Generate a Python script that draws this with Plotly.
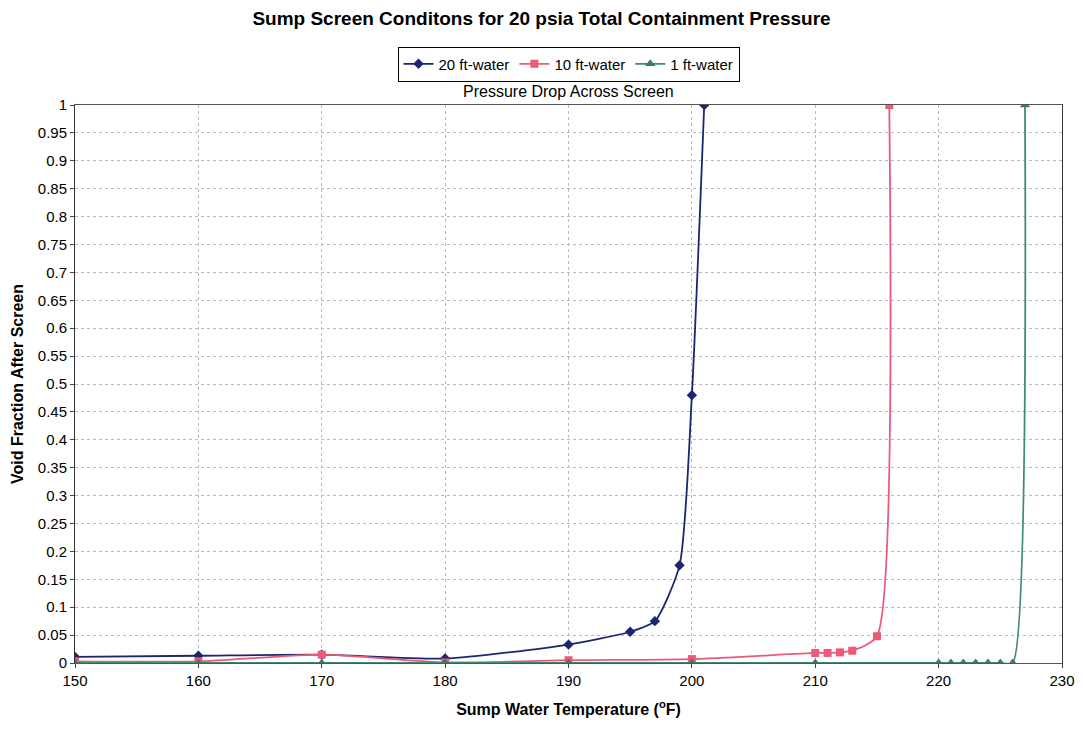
import plotly.graph_objects as go

# Sump water temperature (F) and void fraction after screen
temp_20ft = [150, 160, 170, 180, 190, 195, 197, 199, 200, 201]
void_20ft = [0.011, 0.013, 0.015, 0.008, 0.033, 0.056, 0.075, 0.175, 0.48, 1.0]

temp_10ft = [150, 160, 170, 180, 190, 200, 210, 211, 212, 213, 215, 216]
void_10ft = [0.003, 0.003, 0.015, 0.001, 0.005, 0.007, 0.018, 0.018, 0.019, 0.022, 0.048, 1.0]

temp_1ft = [150, 160, 170, 180, 190, 200, 210, 220, 221, 222, 223, 224, 225, 226, 227]
void_1ft = [0, 0, 0, 0, 0, 0, 0, 0, 0, 0, 0, 0, 0, 0, 1.0]

fig = go.Figure()

fig.add_trace(go.Scatter(x=temp_20ft, y=void_20ft, name="20 ft-water",
                         mode="lines+markers", line=dict(color="#1c2670", width=1.8, shape="spline", smoothing=0.6),
                         marker=dict(symbol="diamond", size=8, color="#1c2670")))
fig.add_trace(go.Scatter(x=temp_10ft, y=void_10ft, name="10 ft-water",
                         mode="lines+markers", line=dict(color="#ec5a78", width=1.8, shape="spline", smoothing=0.6),
                         marker=dict(symbol="square", size=8, color="#ec5a78")))
fig.add_trace(go.Scatter(x=temp_1ft, y=void_1ft, name="1 ft-water",
                         mode="lines+markers", line=dict(color="#3f8a72", width=1.8, shape="spline", smoothing=0.6),
                         marker=dict(symbol="triangle-up", size=9, color="#3f7a62")))

# page body adds an 8px offset, so the figure is sized a bit smaller than the window
fig.update_layout(
    width=1067, height=715,
    paper_bgcolor="white", plot_bgcolor="white",
    font=dict(family="Liberation Sans, Arial", size=15, color="black"),
    margin=dict(l=67, r=13, t=97, b=60),
    title=dict(text="<b>Sump Screen Conditons for 20 psia Total Containment Pressure</b>",
               x=0.5, xanchor="center", y=0.986, yanchor="middle", font=dict(size=19)),
    legend=dict(orientation="h", x=0.5, xanchor="center", y=1.042, yanchor="bottom",
                bordercolor="black", borderwidth=1, font=dict(size=15),
                tracegroupgap=0),
    annotations=[dict(text="Pressure Drop Across Screen", xref="paper", yref="paper",
                      x=0.5, y=1.0, yanchor="bottom", yshift=3, showarrow=False, font=dict(size=16))],
)

fig.update_xaxes(range=[150, 230], dtick=10, showgrid=True, gridcolor="#b8b8cc", griddash="dot",
                 showline=True, linecolor="#555555", mirror=True, ticks="outside", ticklen=4,
                 automargin=False, zeroline=False, tickfont=dict(size=15),
                 title=dict(text="<b>Sump Water Temperature (<sup>o</sup>F)</b>", font=dict(size=16)))
fig.update_yaxes(range=[0, 1], dtick=0.05, showgrid=True, gridcolor="#b8b8cc", griddash="dot",
                 showline=True, linecolor="#333333", mirror=True, ticks="outside", ticklen=4,
                 automargin=False, zeroline=False, tickfont=dict(size=15),
                 title=dict(text="<b>Void Fraction After Screen</b>", font=dict(size=16), standoff=10))

fig.write_html("out.html")
